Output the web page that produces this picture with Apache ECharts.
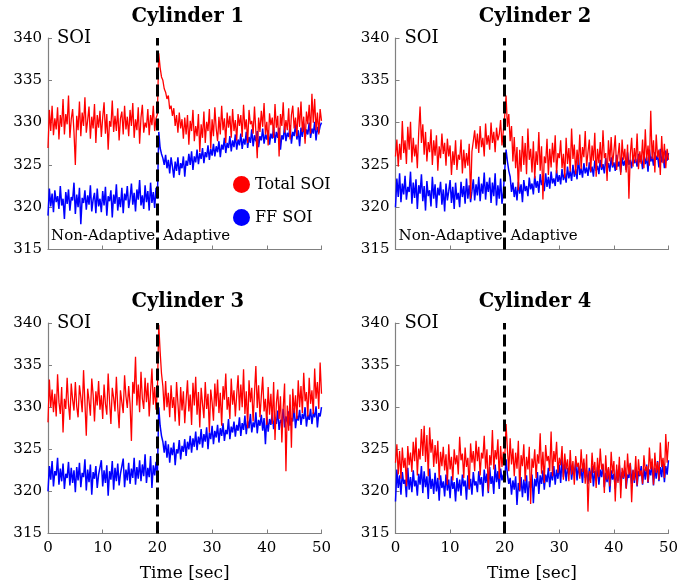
<!DOCTYPE html>
<html>
<head>
<meta charset="utf-8">
<script src="https://cdn.jsdelivr.net/npm/echarts@6/dist/echarts.min.js"></script>
<style>
  html, body { margin: 0; padding: 0; background: #fff; }
  #chart { width: 692px; height: 586px; }
</style>
</head>
<body>
<div id="chart"></div>
<script>
// Spark timing (SOI) per cylinder, sampled every 0.25 s over 50 s.
const sampleStep = 0.25;
const switchTime = 20;            // controller switched from non-adaptive to adaptive
const titles = ['Cylinder 1', 'Cylinder 2', 'Cylinder 3', 'Cylinder 4'];
const xTicks = [0, 10, 20, 30, 40, 50];
const yTicks = [315, 320, 325, 330, 335, 340];

const c1Total = [
  327.0,331.5,329.0,332.0,328.5,330.5,329.2,331.8,328.0,330.9,329.5,332.8,328.6,331.0,329.8,333.2,328.2,330.4,331.6,328.9,
  325.0,330.8,329.1,332.5,328.4,331.2,329.6,333.0,328.8,330.3,331.9,328.1,330.7,329.3,332.2,327.6,330.9,329.4,331.4,328.3,
  330.6,332.4,328.7,331.0,326.8,330.2,329.5,332.6,328.9,330.8,329.0,331.7,327.9,330.5,331.3,328.6,332.0,329.2,330.7,328.4,
  331.5,329.6,332.3,328.2,330.4,329.1,331.8,327.5,330.6,332.1,328.8,330.0,329.4,331.6,328.5,330.9,329.7,332.0,329.0,330.5,
  331.0,
  338.2,336.5,335.4,335.0,334.0,333.6,332.8,333.2,331.6,332.0,330.8,331.7,329.6,330.9,328.8,331.2,329.3,330.4,328.1,330.6,
  328.6,330.9,327.4,330.2,329.0,331.5,327.8,329.6,328.4,331.0,326.5,329.8,328.2,331.3,327.6,330.1,329.0,331.6,326.9,330.4,
  328.4,331.8,329.3,327.8,330.7,328.6,332.0,329.1,330.5,327.6,331.2,329.4,330.8,328.2,331.6,329.0,330.3,327.9,331.0,329.6,
  330.9,328.3,332.1,329.2,330.4,327.6,331.5,329.8,330.2,328.7,331.9,329.0,325.8,330.6,328.9,331.4,329.5,332.3,328.6,330.1,
  327.3,331.1,329.7,330.6,328.2,332.2,329.4,330.8,326.0,331.0,329.6,332.4,328.8,330.3,329.1,331.7,328.0,330.9,332.0,329.3,
  330.6,328.4,331.8,329.5,332.5,328.9,330.7,327.5,331.3,329.8,332.1,328.7,333.4,330.0,332.8,329.1,331.2,328.6,331.6,330.2
];
const c1FF = [
  319.0,322.2,320.1,321.6,319.4,322.0,320.6,321.3,319.8,322.5,320.2,321.0,318.6,321.8,320.4,322.1,319.6,321.2,320.8,322.9,
  319.2,321.5,320.0,322.3,318.0,321.1,320.5,322.0,319.7,321.4,320.3,322.6,319.5,320.9,321.7,319.3,322.2,320.1,321.0,319.4,
  321.9,320.2,322.4,319.0,321.3,320.7,322.0,318.8,321.5,320.4,322.7,319.6,321.2,320.0,322.3,319.3,321.6,320.8,322.5,319.9,
  321.0,322.8,320.3,321.7,319.5,322.1,320.9,323.2,320.2,321.4,319.8,322.6,320.6,321.9,319.6,322.9,320.5,321.8,319.9,322.3,
  321.0,
  328.9,327.0,326.3,325.8,325.0,326.2,324.6,325.6,324.0,325.9,324.8,323.5,325.4,324.3,325.9,323.8,325.2,324.6,326.0,323.6,
  325.5,324.9,326.3,325.0,326.6,324.4,326.0,325.3,326.8,325.1,326.4,325.7,327.0,325.2,326.5,325.9,327.3,325.6,326.9,326.1,
  327.5,326.0,327.2,326.5,327.8,325.9,327.4,326.8,328.2,326.4,327.6,327.0,328.4,326.6,327.9,327.1,328.6,326.8,328.0,327.3,
  328.7,326.9,328.1,327.4,328.9,327.0,328.3,327.6,329.2,327.2,328.5,327.8,329.0,327.1,328.4,327.9,329.3,327.5,328.6,328.0,
  329.1,327.4,328.7,328.1,329.5,327.6,328.9,328.2,329.4,326.8,328.5,328.0,329.6,327.8,328.8,328.3,329.7,327.5,328.9,328.4,
  329.8,328.0,329.1,327.2,329.4,328.3,329.9,328.1,329.2,328.6,330.0,328.2,329.3,328.7,330.1,327.9,329.5,328.8,329.6,330.0
];
const c2Total = [
  326.0,328.0,324.8,327.5,325.6,330.2,326.4,327.9,325.1,329.5,326.8,330.1,325.3,328.2,326.0,327.4,324.6,328.8,331.9,327.6,
  329.8,326.2,328.9,325.4,327.7,326.5,329.2,325.0,327.9,326.1,328.5,324.3,327.2,325.8,328.7,326.3,327.6,324.9,328.1,326.0,
  327.3,323.8,326.6,325.0,327.9,324.4,326.2,325.6,328.0,324.0,326.8,324.6,326.4,324.9,327.5,321.0,326.6,327.8,329.1,326.9,
  328.7,326.4,329.6,327.1,328.2,326.0,329.9,327.4,328.5,326.8,330.0,327.6,328.9,326.5,329.4,327.9,328.6,330.3,327.3,329.0,
  330.8,
  333.2,329.5,331.0,327.8,329.6,325.4,328.3,324.6,327.1,322.0,326.8,324.2,328.4,325.0,327.6,323.9,329.3,325.6,326.9,324.1,
  327.8,323.4,326.6,325.0,328.9,324.3,327.2,320.9,326.0,325.2,328.1,323.8,326.9,324.7,327.6,325.3,328.5,324.0,326.4,325.8,
  327.9,324.6,326.3,323.5,328.2,325.1,327.0,324.2,329.3,325.7,327.4,323.9,326.8,325.0,328.6,324.5,327.1,325.9,329.0,324.8,
  326.5,328.0,324.2,327.3,325.5,328.8,323.6,326.9,325.2,327.7,324.7,329.1,325.8,326.4,323.1,327.9,325.4,328.3,324.9,326.6,
  328.5,324.4,326.1,327.6,323.8,328.0,325.6,326.9,324.1,327.4,321.0,326.2,328.2,324.8,327.0,325.3,328.7,324.5,326.6,325.1,
  328.0,324.6,329.2,325.5,327.3,324.9,331.4,325.7,327.9,324.1,328.6,325.9,326.8,323.8,328.4,325.2,327.5,324.6,326.9,325.6
];
const c2FF = [
  320.0,323.4,321.2,324.0,320.6,322.8,321.5,323.7,320.9,322.4,321.8,324.2,320.4,322.9,321.1,323.3,319.8,322.6,321.6,323.9,
  320.7,322.5,319.6,323.1,321.3,322.0,320.1,323.6,321.0,322.7,319.9,322.3,321.4,323.0,320.3,322.1,319.5,322.8,320.8,321.9,
  323.2,320.5,322.4,319.8,322.9,320.9,321.7,320.0,323.0,321.2,322.5,320.4,323.4,321.0,322.6,320.6,321.9,323.3,320.8,322.7,
  321.4,323.6,320.7,322.8,321.6,324.1,320.9,323.0,321.8,323.5,320.5,322.9,321.3,324.0,320.2,322.6,321.0,323.4,320.4,321.8,
  322.0,
  326.8,325.4,324.3,323.6,321.8,322.9,321.2,322.4,320.8,323.0,321.6,322.7,320.6,323.2,321.9,322.5,321.3,323.5,322.1,322.8,
  321.5,323.7,322.3,323.1,321.7,323.9,322.6,323.3,321.9,324.0,322.4,323.6,322.2,324.2,322.8,323.4,322.5,324.4,323.0,323.8,
  322.7,324.5,323.2,324.0,322.9,324.8,323.4,324.3,323.1,325.0,323.6,324.5,323.3,326.0,323.8,324.6,323.5,325.2,324.0,324.7,
  323.7,325.3,324.1,324.8,323.6,325.5,324.3,324.9,323.9,325.6,324.4,325.1,324.0,325.8,324.5,325.2,324.2,325.9,324.7,325.3,
  324.3,326.2,324.8,325.4,324.1,325.9,324.9,325.5,324.4,326.5,325.0,325.6,324.6,326.1,325.2,325.7,324.8,326.3,325.3,325.8,
  324.5,326.4,325.1,325.9,324.2,326.8,325.4,326.0,324.9,326.5,325.6,326.1,324.7,326.9,325.3,326.2,324.6,326.7,325.5,326.4
];
const c3Total = [
  328.2,333.3,330.0,332.1,329.4,331.6,328.9,333.9,330.6,329.2,332.4,327.0,331.0,329.8,333.5,330.3,328.5,332.8,330.9,329.6,
  333.0,330.1,328.8,332.6,331.2,329.4,334.4,330.5,326.6,332.2,330.8,329.0,333.4,331.5,328.3,331.9,330.2,333.1,329.7,331.4,
  328.6,332.7,330.4,329.1,334.0,330.7,328.0,332.3,331.1,329.5,333.6,330.0,327.5,332.0,330.6,329.3,333.8,331.3,329.9,332.5,
  330.4,326.0,333.0,331.6,336.0,330.2,332.7,329.4,334.2,331.0,329.8,333.5,330.6,332.9,328.9,331.8,334.6,330.3,332.4,329.7,
  332.0,
  339.8,336.6,334.0,332.5,329.6,333.1,330.0,331.7,328.8,332.6,329.9,331.2,328.3,333.0,330.5,327.8,332.4,329.6,331.9,328.1,
  330.8,333.2,329.5,331.5,327.9,332.9,330.2,333.6,329.1,331.8,327.6,332.3,330.4,328.7,333.0,329.8,331.6,327.0,332.1,330.6,
  328.4,332.8,330.1,333.3,329.3,331.7,327.8,332.5,330.9,334.0,329.7,331.2,328.6,333.4,330.3,332.0,328.9,331.5,333.8,329.6,
  332.7,330.0,334.5,329.2,331.9,327.5,333.2,330.6,332.3,328.3,331.7,334.9,329.9,332.6,328.8,331.3,333.6,329.5,331.0,327.9,
  332.4,329.1,331.6,328.0,333.0,326.1,330.5,332.1,328.6,331.3,325.8,329.9,332.8,322.4,330.2,327.2,331.5,325.2,332.2,329.3,
  331.4,328.6,333.2,330.0,332.5,329.3,334.1,330.7,331.8,328.9,333.5,330.4,332.0,329.2,334.6,331.0,333.0,329.8,335.3,331.6
];
const c3FF = [
  320.0,323.0,321.4,323.6,320.6,322.4,321.9,324.0,320.8,322.7,321.2,323.3,320.3,322.1,321.6,323.5,320.7,322.8,321.0,322.5,
  319.9,322.9,321.3,323.4,320.5,322.2,321.7,323.8,320.1,322.6,321.1,323.2,319.6,322.3,321.5,323.0,320.4,322.0,321.8,323.7,
  320.6,322.5,321.0,323.1,319.5,322.4,321.4,323.6,320.2,322.8,321.2,323.3,320.7,322.1,321.9,323.9,320.5,322.6,321.3,323.4,
  320.9,322.7,321.6,324.0,320.8,322.9,321.5,323.7,321.2,323.2,321.8,324.4,321.0,322.8,321.7,324.2,320.4,323.1,321.9,323.5,
  322.0,
  330.0,327.8,326.6,325.9,324.6,326.0,324.0,325.6,323.4,325.2,324.3,325.8,323.1,325.0,324.5,326.1,323.8,325.4,324.7,326.2,
  324.2,325.9,325.0,326.6,324.6,326.3,325.3,327.1,324.9,326.5,325.6,327.4,325.2,326.8,325.9,327.6,325.0,327.0,326.2,327.8,
  325.6,327.2,326.4,327.9,325.8,327.5,326.6,328.1,326.0,327.3,326.8,328.6,326.2,327.7,327.0,328.3,326.5,327.9,327.2,328.8,
  326.6,328.1,327.3,329.0,326.8,328.4,327.5,329.2,327.0,328.2,327.6,329.4,326.9,328.5,327.8,329.1,327.2,328.7,325.6,328.9,
  327.1,328.6,327.9,329.3,327.4,328.8,328.0,329.6,327.3,328.5,328.1,329.8,327.6,328.9,328.2,329.5,327.8,328.7,328.3,329.9,
  327.5,329.0,328.4,329.7,327.9,329.2,328.6,330.0,327.7,329.1,328.5,329.8,328.0,329.4,328.8,330.1,327.6,329.3,328.9,330.0
];
const c4Total = [
  323.4,325.6,322.0,324.8,321.5,325.2,322.8,324.0,320.6,325.4,323.1,324.6,322.3,325.9,323.6,326.4,321.9,325.1,323.8,327.4,
  324.2,327.8,323.5,326.7,321.8,327.6,324.6,326.2,322.9,325.5,323.3,326.0,321.4,324.7,323.0,325.3,322.5,324.4,320.8,325.6,
  322.6,324.1,321.3,325.0,323.2,324.3,322.0,326.5,323.7,324.5,321.6,325.2,322.9,324.0,320.3,325.7,323.4,324.8,322.4,326.0,
  323.6,325.3,321.9,324.6,323.9,326.6,322.7,325.0,320.0,324.3,323.1,327.3,322.6,324.9,323.8,326.2,321.5,325.4,322.9,324.7,
  323.8,
  328.0,324.9,322.4,326.3,323.2,325.1,321.8,324.6,322.7,326.0,320.1,324.3,323.0,325.6,321.2,324.1,322.6,325.3,318.5,323.9,
  322.8,325.0,321.6,324.4,323.3,326.9,322.1,324.7,321.0,325.5,323.6,324.2,322.4,327.1,321.8,324.8,323.5,325.9,322.2,324.0,
  323.1,325.4,321.4,324.5,322.6,323.8,321.2,324.9,322.0,323.6,320.8,324.2,322.9,323.4,321.5,325.0,322.3,323.9,320.9,324.4,
  317.6,322.4,321.0,324.6,322.2,323.5,320.4,324.0,321.7,325.1,322.6,323.3,319.8,324.3,321.4,322.9,320.6,324.7,322.1,323.6,
  318.8,323.2,321.0,324.1,319.2,322.8,321.6,323.7,320.3,324.5,322.0,323.4,318.7,322.6,321.3,324.2,320.7,323.8,321.9,322.5,
  320.9,324.3,322.4,323.0,321.1,325.2,322.6,323.9,320.8,324.6,322.2,323.5,321.4,325.8,322.9,324.0,321.6,326.8,323.4,325.9
];
const c4FF = [
  318.8,322.6,320.4,321.9,319.6,322.3,320.9,321.4,319.3,322.8,320.2,321.7,319.9,322.5,320.6,321.3,319.5,322.1,320.8,323.0,
  319.8,322.4,320.5,321.8,319.1,322.7,320.3,321.5,319.7,322.2,320.0,321.6,318.9,321.9,320.4,321.2,319.4,322.0,320.1,321.4,
  319.2,321.8,320.3,321.1,318.8,321.6,320.0,321.4,319.5,322.0,320.6,321.3,319.0,321.9,320.2,321.5,319.6,322.3,320.7,321.2,
  319.9,322.4,320.8,321.7,319.4,322.6,321.0,322.1,319.8,322.9,320.9,321.8,319.7,323.2,321.1,322.4,320.3,322.7,321.3,322.0,
  321.4,
  323.8,322.0,320.9,321.6,319.6,321.3,320.2,321.8,318.4,321.0,320.0,321.7,319.3,321.4,319.8,321.9,318.9,321.2,320.4,322.0,
  318.6,321.5,320.6,322.3,319.7,321.9,320.9,322.5,320.2,322.0,321.1,322.8,320.5,322.3,321.3,323.0,320.8,322.6,321.5,323.2,
  321.0,324.0,321.7,323.3,321.2,322.8,322.0,323.6,321.4,322.9,322.1,323.5,321.3,323.1,321.8,322.7,321.0,323.4,321.6,322.5,
  320.9,322.8,321.5,323.0,320.6,322.4,321.3,322.9,320.8,322.6,321.7,323.2,320.5,322.2,321.1,322.7,319.9,322.5,321.4,322.1,
  320.3,322.6,321.2,323.1,320.7,322.3,321.5,322.8,320.4,322.0,321.6,323.3,320.9,322.5,321.0,322.9,320.6,322.4,321.8,323.0,
  320.8,322.7,321.4,323.2,321.0,322.6,321.9,323.4,320.7,322.8,321.5,323.6,321.2,322.9,321.7,323.5,321.1,323.0,322.0,323.7
];

const totalSeries = [c1Total, c2Total, c3Total, c4Total];
const ffSeries = [c1FF, c2FF, c3FF, c4FF];

const FONT = 'DejaVu Serif';
const RED = '#ff0000';
const BLUE = '#0000ff';
const AXIS_GRAY = '#808080';

// pair each sample with its time stamp
const withTime = arr => arr.map((v, i) => [i * sampleStep, v]);

const grids = [
  { left: 48,    top: 38,  width: 273.5, height: 211.5 },
  { left: 395.5, top: 38,  width: 273,   height: 211.5 },
  { left: 48,    top: 323, width: 273.5, height: 210.5 },
  { left: 395.5, top: 323, width: 273,   height: 210.5 }
];

const xAxes = grids.map((g, i) => ({
  type: 'value', gridIndex: i,
  min: xTicks[0], max: xTicks[xTicks.length - 1], interval: xTicks[1] - xTicks[0],
  axisLine: { lineStyle: { color: AXIS_GRAY, width: 1.2 } },
  axisTick: { inside: true, length: 4, lineStyle: { color: AXIS_GRAY } },
  axisLabel: { show: i >= 2, color: '#000', fontFamily: FONT, fontSize: 15, margin: 7 },
  splitLine: { show: false },
  name: i >= 2 ? 'Time [sec]' : '',
  nameLocation: 'middle', nameGap: 32,
  nameTextStyle: { color: '#000', fontFamily: FONT, fontSize: 17 }
}));

const yAxes = grids.map((g, i) => ({
  type: 'value', gridIndex: i,
  min: yTicks[0], max: yTicks[yTicks.length - 1], interval: yTicks[1] - yTicks[0],
  axisLine: { show: true, lineStyle: { color: AXIS_GRAY, width: 1.2 } },
  axisTick: { show: true, inside: true, length: 4, lineStyle: { color: AXIS_GRAY } },
  axisLabel: { color: '#000', fontFamily: FONT, fontSize: 15, margin: 6 },
  splitLine: { show: false }
}));

const series = [];
grids.forEach((g, i) => {
  series.push({
    name: 'FF SOI', type: 'line', xAxisIndex: i, yAxisIndex: i,
    data: withTime(ffSeries[i]), showSymbol: false, symbol: 'circle',
    lineStyle: { color: BLUE, width: 1.5 }, itemStyle: { color: BLUE },
    z: 2
  });
  series.push({
    name: 'Total SOI', type: 'line', xAxisIndex: i, yAxisIndex: i,
    data: withTime(totalSeries[i]), showSymbol: false, symbol: 'circle',
    lineStyle: { color: RED, width: 1.3 }, itemStyle: { color: RED },
    z: 3,
    markLine: {
      silent: true, symbol: 'none', label: { show: false }, z: 5,
      lineStyle: { color: '#000', width: 3, type: [12, 5] },
      data: [{ xAxis: switchTime }]
    }
  });
});

const titleOpts = grids.map((g, i) => ({
  text: titles[i],
  left: g.left + g.width / 2 - 2, top: g.top - 36,
  textAlign: 'center',
  textStyle: { fontFamily: FONT, fontWeight: 'bold', fontSize: 19.5, color: '#000' }
}));

const graphics = [];
grids.forEach((g, i) => {
  graphics.push({
    type: 'text', left: g.left + 9, top: g.top - 9,
    style: { text: 'SOI', font: '18px "DejaVu Serif"', fill: '#000' }
  });
  if (i < 2) {
    graphics.push({
      type: 'text', left: g.left + 3, top: g.top + g.height - 21,
      style: { text: 'Non-Adaptive', font: '15px "DejaVu Serif"', fill: '#000' }
    });
    graphics.push({
      type: 'text', left: g.left + 115, top: g.top + g.height - 21,
      style: { text: 'Adaptive', font: '15px "DejaVu Serif"', fill: '#000' }
    });
  }
});

const chart = echarts.init(document.getElementById('chart'), null, { renderer: 'canvas' });
chart.setOption({
  animation: false,
  backgroundColor: '#fff',
  title: titleOpts,
  legend: {
    data: ['Total SOI', 'FF SOI'],
    orient: 'vertical', left: 228, top: 171,
    icon: 'circle', itemWidth: 17, itemHeight: 17, itemGap: 16,
    selectedMode: false,
    textStyle: { fontFamily: FONT, fontSize: 16, color: '#000' }
  },
  grid: grids,
  xAxis: xAxes,
  yAxis: yAxes,
  series: series,
  graphic: graphics
});
</script>
</body>
</html>
